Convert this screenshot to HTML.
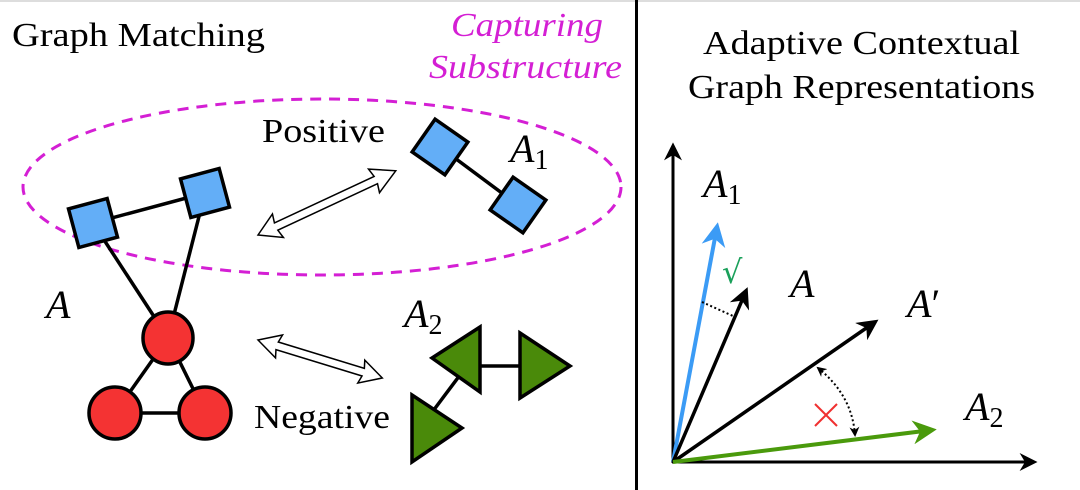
<!DOCTYPE html>
<html><head><style>body{margin:0;background:#fff}svg{display:block}.s{font-family:"Liberation Serif",serif}</style></head><body>
<svg width="1080" height="490" viewBox="0 0 1080 490" xmlns="http://www.w3.org/2000/svg">
<defs>
<marker id="ab" viewBox="0 0 10 10" refX="8" refY="5" markerWidth="6" markerHeight="6" orient="auto"><path d="M0,0 L10,5 L0,10 L3,5z" fill="#000"/></marker>
<marker id="ablue" viewBox="0 0 10 10" refX="8" refY="5" markerWidth="6" markerHeight="6" orient="auto"><path d="M0,0 L10,5 L0,10 L3,5z" fill="#3b9bf5"/></marker>
<marker id="agreen" viewBox="0 0 10 10" refX="8" refY="5" markerWidth="6" markerHeight="6" orient="auto"><path d="M0,0 L10,5 L0,10 L3,5z" fill="#4a9a0c"/></marker>
<marker id="sm" viewBox="0 0 10 10" refX="8" refY="5" markerWidth="5" markerHeight="5" orient="auto-start-reverse"><path d="M0,0 L10,5 L0,10 L3,5z" fill="#000"/></marker>
</defs>
<rect x="0" y="0" width="1080" height="2" fill="#ddd"/>
<rect x="635" y="0" width="3" height="490" fill="#000"/>
<g class="s" font-size="34">
<text x="12" y="46" textLength="253" lengthAdjust="spacingAndGlyphs">Graph Matching</text>
<text x="451" y="36" fill="#d41fd4" font-style="italic" textLength="152" lengthAdjust="spacingAndGlyphs">Capturing</text>
<text x="429" y="78" fill="#d41fd4" font-style="italic" textLength="193" lengthAdjust="spacingAndGlyphs">Substructure</text>
<text x="262" y="142" textLength="123" lengthAdjust="spacingAndGlyphs">Positive</text>
<text x="254" y="428" textLength="136" lengthAdjust="spacingAndGlyphs">Negative</text>
<text x="703" y="54" textLength="317" lengthAdjust="spacingAndGlyphs">Adaptive Contextual</text>
<text x="688" y="98" textLength="347" lengthAdjust="spacingAndGlyphs">Graph Representations</text>
</g>
<ellipse cx="322" cy="187" rx="299" ry="88" fill="none" stroke="#d41fd4" stroke-width="3" stroke-dasharray="11,8"/>
<g stroke="#000" stroke-width="3.5">
<line x1="93" y1="223" x2="205" y2="193"/>
<line x1="93" y1="223" x2="168" y2="338"/>
<line x1="205" y1="193" x2="168" y2="338"/>
<line x1="168" y1="338" x2="115" y2="413"/>
<line x1="168" y1="338" x2="205" y2="413"/>
<line x1="115" y1="413" x2="205" y2="413"/>
<line x1="440" y1="147" x2="518" y2="205"/>
<line x1="470" y1="366" x2="530" y2="366"/>
<line x1="460" y1="375" x2="430" y2="415"/>
</g>
<g stroke="#000" stroke-width="3.5" fill="#63aef7">
<rect x="-20" y="-20" width="40" height="40" transform="translate(93,223) rotate(-15)"/>
<rect x="-20" y="-20" width="40" height="40" transform="translate(205,193) rotate(-15)"/>
<rect x="-20" y="-20" width="40" height="40" transform="translate(440,147) rotate(35)"/>
<rect x="-20" y="-20" width="40" height="40" transform="translate(518,205) rotate(35)"/>
</g>
<g stroke="#000" stroke-width="3.5" fill="#f43333">
<ellipse cx="168" cy="338" rx="25" ry="26"/>
<ellipse cx="115" cy="413" rx="26" ry="26"/>
<ellipse cx="205" cy="413" rx="26" ry="26"/>
</g>
<g stroke="#000" stroke-width="3.5" fill="#4a8a0a">
<polygon points="432,358 480,327 480,392"/>
<polygon points="520,333 570,366 520,398"/>
<polygon points="412,395 462,428 412,462"/>
</g>
<g fill="#fff" stroke="#000" stroke-width="1.5">
<g transform="translate(258,235) rotate(-25)"><polygon points="0,0 22,-13 20,-4 130,-4 128,-13 152,0 128,13 130,4 20,4 22,13"/></g>
<g transform="translate(258,340) rotate(17)"><polygon points="0,0 22,-12 20,-4 110,-4 108,-12 130,0 108,12 110,4 20,4 22,12"/></g>
</g>
<g class="s" font-style="italic" font-size="40">
<text x="46" y="318">A</text>
<text x="510" y="162">A<tspan font-style="normal" font-size="28" dy="7">1</tspan></text>
<text x="404" y="327">A<tspan font-style="normal" font-size="28" dy="7">2</tspan></text>
<text x="703" y="197">A<tspan font-style="normal" font-size="28" dy="7">1</tspan></text>
<text x="790" y="297">A</text>
<text x="907" y="317">A<tspan font-style="normal">′</tspan></text>
<text x="965" y="420">A<tspan font-style="normal" font-size="28" dy="7">2</tspan></text>
</g>
<line x1="673" y1="463" x2="673" y2="146" stroke="#000" stroke-width="3" marker-end="url(#ab)"/>
<line x1="672" y1="462" x2="1034" y2="462" stroke="#000" stroke-width="3" marker-end="url(#ab)"/>
<line x1="673" y1="462" x2="717" y2="227" stroke="#3b9bf5" stroke-width="4" marker-end="url(#ablue)"/>
<line x1="673" y1="462" x2="746" y2="291" stroke="#000" stroke-width="3.5" marker-end="url(#ab)"/>
<line x1="673" y1="462" x2="875" y2="322" stroke="#000" stroke-width="3.5" marker-end="url(#ab)"/>
<line x1="673" y1="462" x2="932" y2="430" stroke="#4a9a0c" stroke-width="4" marker-end="url(#agreen)"/>
<line x1="702" y1="302" x2="733" y2="316" stroke="#000" stroke-width="2" stroke-dasharray="2,2.5"/>
<path d="M818,368 Q852,395 855,435" fill="none" stroke="#000" stroke-width="2" stroke-dasharray="2,2.5" marker-start="url(#sm)" marker-end="url(#sm)"/>
<text x="722" y="283" font-family="DejaVu Sans, sans-serif" font-size="32" fill="#1aa05a">√</text>
<g stroke="#f03030" stroke-width="2"><line x1="815" y1="404" x2="837" y2="426"/><line x1="837" y1="404" x2="815" y2="426"/></g>
</svg>
</body></html>
